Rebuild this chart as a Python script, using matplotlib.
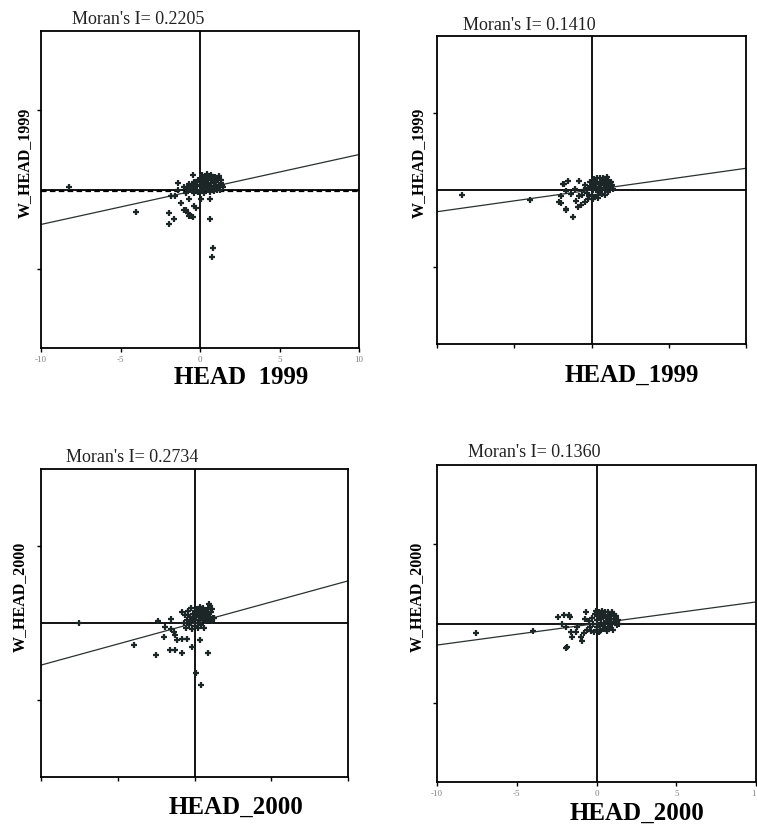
import matplotlib
matplotlib.use("Agg")
import matplotlib.pyplot as plt

# figure is 757 x 828 px
W, H = 757, 828

plt.rcParams['font.family'] = ['Liberation Serif', 'DejaVu Serif']

# Moran's I values (also slope of the regression line)
morans = [0.2205, 0.1410, 0.2734, 0.1360]
xlabels = ["HEAD  1999", "HEAD_1999", "HEAD_2000", "HEAD_2000"]
ylabels = ["W_HEAD_1999", "W_HEAD_1999", "W_HEAD_2000", "W_HEAD_2000"]
xtick_vals = [-10, -5, 0, 5, 10]
ytick_vals = [-5, 5]
# tick labels as printed (last one in panel 4 is cut at the page edge)
xtick_text = [["-10", "-5", "0", "5", "10"], None, None, ["-10", "-5", "0", "5", "1"]]

# scatter points per panel (standardized value, spatial lag)
p1_x = [-8.26, -4.0, -1.97, -1.66, -1.97, -1.2, -0.69, -0.46, -0.88, -0.25, 0.63, 0.63, 0.84, 0.73,
        -1.36, -0.46, -1.0, -0.75, -0.38, -1.6, -1.4, -1.8, -0.7, 0.06, -0.57,
        0.0, 0.1, 0.2, 0.3, 0.4, 0.5, 0.6, 0.7, 0.8, 0.9, 1.0, 1.1, 1.2, 1.3, 1.4,
        -0.1, -0.2, -0.3, -0.4, -0.5, 0.15, 0.35, 0.55, 0.75, 0.95, 1.15,
        0.05, 0.25, 0.45, 0.65, 0.85, 1.05, 1.25, -0.15, -0.35, -0.6, -0.7, -0.8, -0.9, -1.0,
        0.2, 0.5, 0.8, 1.0, 0.3, 0.6, 0.9, -0.25, 0.1, 0.45, 1.35, 1.45, 0.7, 1.2]
p1_y = [0.15, -1.45, -1.5, -1.87, -2.2, -0.88, -1.66, -1.72, -1.3, -1.15, -1.87, -0.63, -3.7, -4.24,
        0.42, 0.9, -1.3, -1.5, -1.07, -0.4, -0.06, -0.44, -0.57, -0.57, -1.7,
        0.2, 0.4, 0.1, 0.5, 0.3, 0.6, 0.2, 0.4, 0.1, 0.5, 0.3, 0.6, 0.2, 0.4, 0.3,
        0.6, 0.3, 0.1, 0.5, 0.2, 0.75, 0.8, 0.85, 0.7, 0.8, 0.75,
        -0.1, -0.2, -0.05, -0.15, -0.1, 0.0, -0.05, -0.15, -0.2, 0.0, 0.35, 0.1, -0.2, 0.15,
        0.55, 0.4, 0.6, 0.45, 0.25, 0.05, 0.25, 0.45, 0.9, 0.95, 0.6, 0.15, 0.9, 0.85]

p2_x = [-8.4, -4.0, -1.64, -1.2, -2.0, -1.75, -1.53, -0.78, 1.02, 1.23,
        -1.86, -1.64, -1.97, -2.1, -1.32, -1.0, -1.64, -0.67, -0.45, -1.1, -0.78, -0.88,
        0.0, 0.1, 0.2, 0.3, 0.4, 0.5, 0.6, 0.7, 0.8, 0.9, 1.0, 1.1, 1.2, 1.25,
        0.15, 0.35, 0.55, 0.75, 0.95, -0.1, -0.2, -0.3, -0.15, 0.05, 0.25, 0.45, 0.65, 0.85, 1.05,
        -0.4, -0.5, -0.6, 0.3, 0.6, 0.9, 0.2, 0.5, 0.8, 1.15, -0.05, 0.4, 0.1, -0.25, 1.35, 1.4, 1.1]
p2_y = [-0.33, -0.65, -1.3, -1.73, -0.87, 0.39, 0.6, 0.6, 0.82, 0.5,
        0.39, -0.04, -0.37, -0.8, -0.26, -0.7, -1.23, -1.0, -0.8, 0.06, -0.37, -1.13,
        0.3, 0.0, 0.5, 0.2, -0.1, 0.4, 0.1, 0.6, 0.3, 0.0, 0.4, 0.2, 0.5, 0.1,
        0.7, 0.75, 0.8, 0.75, 0.7, 0.5, 0.1, -0.2, -0.4, -0.3, -0.45, -0.35, -0.25, -0.3, -0.15,
        0.35, 0.0, -0.3, 0.45, 0.55, 0.45, 0.15, 0.2, 0.1, 0.35, 0.2, -0.55, -0.6, -0.6, 0.3, 0.05, 0.65]

p3_x = [-7.5, -3.95, -2.48, -1.6, -0.8, 0.87, 0.1, 0.43,
        0.93, 1.15, -1.56, -2.39, -1.89, -1.56, -2.0, -1.24, -1.13, -0.8, -0.48, 0.39, -1.24, -0.15, -1.35,
        0.0, 0.1, 0.2, 0.3, 0.4, 0.5, 0.6, 0.7, 0.8, 0.9, 1.0, 1.1, 1.2,
        -0.1, -0.2, -0.3, -0.4, -0.5, -0.6, -0.7, 0.05, 0.25, 0.45, 0.65, -0.15, -0.35, -0.55,
        0.15, 0.35, 0.55, 0.75, -0.25, 0.3, 0.6, 0.85, 0.2, 0.5, -0.05, 0.95, 1.15, -0.45, 0.0, 0.4, 0.7,
        1.3, 1.0, -0.8]
p3_y = [0.0, -1.4, -2.06, -1.73, -1.95, -1.95, -3.25, -4.0,
        1.26, 0.94, 0.29, 0.11, -0.26, -0.37, -0.91, -0.8, -1.13, -1.02, -1.02, -1.13, -1.78, -1.56, -0.59,
        0.2, 0.5, 0.0, 0.4, 0.8, 0.3, 0.6, 0.1, 0.5, 0.9, 0.4, 0.7, 0.3,
        0.6, 0.1, 0.4, 0.8, 0.2, 0.5, 0.0, -0.2, -0.35, -0.15, -0.3, -0.4, -0.1, -0.3,
        0.9, 1.05, 1.0, 0.85, 1.0, 0.2, 0.25, 0.2, 0.65, 0.7, 0.35, 0.6, 0.1, 0.55, 0.8, 0.5, 0.4,
        0.35, 1.1, 0.7]

p4_x = [-7.57, -3.99, -2.4, -1.9, -1.69, -0.89,
        -2.05, -1.73, -2.15, -1.94, -1.63, -1.31, -1.52, -1.0, -1.2, -0.78, -1.84, 0.17, -0.68, 1.11, 1.33,
        0.0, 0.1, 0.2, 0.3, 0.4, 0.5, 0.6, 0.7, 0.8, 0.9, 1.0, 1.1, 1.2, 1.3,
        -0.1, -0.2, -0.3, -0.4, -0.5, -0.6, 0.05, 0.25, 0.45, 0.65, 0.85, 1.05, -0.15,
        0.15, 0.35, 0.55, 0.75, 0.95, -0.05, 0.3, 0.6, 0.9, 0.2, 0.5, 0.8, 1.15, -0.35, 0.4, 0.7, 0.0,
        1.4, 1.25, -0.7]
p4_y = [-0.59, -0.49, 0.42, -1.54, 0.42, -1.12,
        0.53, 0.53, 0.0, -0.21, -0.53, -0.53, -0.85, -0.85, -0.21, -0.63, -1.48, -0.53, 0.73, 0.63, 0.21,
        0.2, 0.5, -0.1, 0.3, 0.6, 0.0, 0.4, -0.2, 0.2, 0.5, 0.0, 0.3, 0.1, -0.1,
        0.6, 0.0, 0.35, -0.2, 0.15, -0.4, -0.4, -0.5, -0.35, -0.5, -0.3, -0.4, -0.55,
        0.75, 0.8, 0.7, 0.75, 0.7, 0.8, 0.05, 0.15, 0.1, 0.4, 0.45, 0.45, 0.45, -0.45, -0.15, 0.25, -0.2,
        0.0, 0.5, 0.3]

points = [(p1_x, p1_y), (p2_x, p2_y), (p3_x, p3_y), (p4_x, p4_y)]

# layout in pixels: (left, top, right, bottom) of each plot box
boxes = [(41, 32, 359, 349), (437, 37, 746, 345), (41, 470, 348, 778), (437, 466, 756, 783)]
title_pos = [(138, 20), (529, 25), (132, 458), (534, 453)]
xlabel_pos = [(241, 378), (632, 375), (236, 807), (637, 813)]
ylabel_pos = [(25, 163), (419, 163), (20, 597), (417, 597)]

fig = plt.figure(figsize=(W / 100, H / 100), dpi=100)
dark = '#1c2626'

def fx(px):
    return px / W

def fy(py):
    return 1 - py / H

for i in range(4):
    l, t, r, b = boxes[i]
    ax = fig.add_axes([fx(l), fy(b), (r - l) / W, (b - t) / H])
    ax.set_xlim(-10, 10)
    ax.set_ylim(-10, 10)

    ax.axhline(0, color='black', lw=1.3, zorder=2)
    ax.axvline(0, color='black', lw=1.3, zorder=2)
    if i == 0:
        ax.plot([-10, 10], [-0.12, -0.12], color='black', lw=1.6, ls=(0, (2.5, 1.5)), zorder=2)

    # regression line, slope = Moran's I
    s = morans[i]
    ax.plot([-10, 10], [-10 * s, 10 * s], color='#2a3030', lw=0.9, zorder=2)

    px_, py_ = points[i]
    ax.plot(px_, py_, ls='none', marker='+', ms=5, mew=1.6, color=dark, zorder=3)

    for sp in ax.spines.values():
        sp.set_color('black')
        sp.set_linewidth(1.3)
    ax.set_xticks(xtick_vals)
    ax.set_yticks(ytick_vals)
    ax.tick_params(direction='out', length=3, width=1, colors='black', pad=2)
    ax.set_yticklabels([])
    if xtick_text[i] is not None:
        labs = ax.set_xticklabels(xtick_text[i], fontsize=6.5, color='#808080')
        if i == 3:
            labs[-1].set_horizontalalignment('right')
    else:
        ax.set_xticklabels([])

    fig.text(fx(title_pos[i][0]), fy(title_pos[i][1]), "Moran's I= %.4f" % morans[i],
             fontsize=13, ha='center', va='center', color='#222222')
    fig.text(fx(xlabel_pos[i][0]), fy(xlabel_pos[i][1]), xlabels[i],
             fontsize=18, fontweight='bold', ha='center', va='center', color='black')
    fig.text(fx(ylabel_pos[i][0]), fy(ylabel_pos[i][1]), ylabels[i],
             fontsize=11.5, fontweight='bold', rotation=90, ha='center', va='center', color='black')

fig.savefig("out.png", dpi=100, facecolor='white')
